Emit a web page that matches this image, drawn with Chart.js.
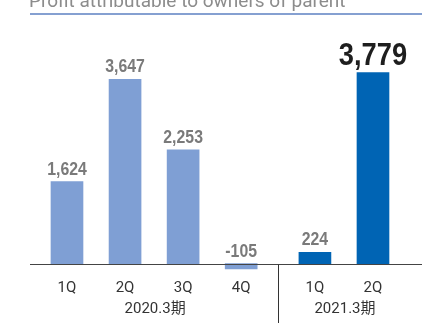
<!DOCTYPE html>
<html>
<head>
<meta charset="utf-8">
<script src="https://cdn.jsdelivr.net/npm/chart.js@4/dist/chart.umd.min.js"></script>
<style>
  html, body { margin: 0; padding: 0; background: #fff; }
  #wrap { position: relative; width: 445px; height: 323px; }
</style>
</head>
<body>
<div id="wrap"><canvas id="chart" width="445" height="323"></canvas></div>
<script>
// Quarterly profit attributable to owners of parent (million yen)
const title = 'Profit attributable to owners of parent';
const categories = ['1Q', '2Q', '3Q', '4Q', '1Q', '2Q'];
const periods = ['2020.3期', '2021.3期'];
const periodOf = [0, 0, 0, 0, 1, 1];
const profit = [1624, 3647, 2253, -105, 224, 3779];

// Visual settings
const GROUP_GAP = 0.27;          // extra space between fiscal years (in category units)
const LIGHT = '#7f9fd4';
const DARK = '#0064b4';
const LABEL_FONT = '"Liberation Sans", Arial, sans-serif';
const TEXT_FONT = 'Roboto, "Noto Sans CJK JP", sans-serif';

const slot = categories.map((_, i) => i + (periodOf[i] ? GROUP_GAP : 0));
const points = profit.map((v, i) => ({ x: slot[i], y: v }));
const colors = periodOf.map(p => (p === 0 ? LIGHT : DARK));
const latest = profit.length - 1;

const fmt = v => v.toLocaleString('en-US');

function drawScaledText(ctx, text, x, y, sx) {
  ctx.save();
  ctx.translate(x, y);
  ctx.scale(sx, 1);
  ctx.fillText(text, 0, 0);
  ctx.restore();
}

const decorations = {
  id: 'decorations',
  afterDatasetsDraw(chart) {
    const { ctx, chartArea, scales } = chart;
    const xs = scales.x, ys = scales.y;
    const zero = Math.round(ys.getPixelForValue(0)) + 0.5;

    ctx.save();
    // title and its underline
    ctx.fillStyle = '#8c8c8c';
    ctx.font = '19px ' + TEXT_FONT;
    ctx.textAlign = 'left';
    ctx.textBaseline = 'alphabetic';
    ctx.fillText(title, 29, 7);
    ctx.strokeStyle = '#5d80c2';
    ctx.lineWidth = 1.5;
    ctx.beginPath();
    ctx.moveTo(30, 14);
    ctx.lineTo(chartArea.right, 14);
    ctx.stroke();

    // zero line
    ctx.strokeStyle = '#444';
    ctx.lineWidth = 1;
    ctx.beginPath();
    ctx.moveTo(chartArea.left, zero);
    ctx.lineTo(chartArea.right, zero);
    ctx.stroke();

    // separator between fiscal years
    const firstNew = periodOf.indexOf(1);
    const sepX = Math.round((xs.getPixelForValue(slot[firstNew - 1]) + xs.getPixelForValue(slot[firstNew])) / 2) + 0.5;
    ctx.strokeStyle = '#333';
    ctx.beginPath();
    ctx.moveTo(sepX, zero);
    ctx.lineTo(sepX, chart.height);
    ctx.stroke();

    // value labels
    ctx.textAlign = 'center';
    profit.forEach((v, i) => {
      const px = xs.getPixelForValue(slot[i]);
      const top = Math.min(ys.getPixelForValue(v), ys.getPixelForValue(0));
      if (i === latest) {
        ctx.fillStyle = '#1e1e1e';
        ctx.font = 'bold 31px ' + LABEL_FONT;
        drawScaledText(ctx, fmt(v), px, top - 8, 0.88);
      } else {
        ctx.fillStyle = '#7a7a7a';
        ctx.font = 'bold 18px ' + LABEL_FONT;
        drawScaledText(ctx, fmt(v), px, top - 7, 0.88);
      }
    });

    // category labels
    ctx.fillStyle = '#333';
    ctx.font = '15px ' + TEXT_FONT;
    ctx.textBaseline = 'middle';
    categories.forEach((c, i) => {
      ctx.fillText(c, xs.getPixelForValue(slot[i]), 288);
    });
    // fiscal year labels, centred under their quarters
    periods.forEach((p, g) => {
      const idx = periodOf.map((q, i) => (q === g ? i : -1)).filter(i => i >= 0);
      const a = xs.getPixelForValue(slot[idx[0]]);
      const b = xs.getPixelForValue(slot[idx[idx.length - 1]]);
      ctx.fillText(p, (a + b) / 2 + 1, 309);
    });
    ctx.restore();
  }
};

new Chart(document.getElementById('chart'), {
  type: 'bar',
  data: {
    datasets: [{
      data: points,
      backgroundColor: colors,
      borderWidth: 0,
      barThickness: 32
    }]
  },
  options: {
    responsive: false,
    animation: false,
    events: [],
    layout: { padding: { left: 30, right: 23, top: 21, bottom: 19 } },
    scales: {
      x: { type: 'linear', display: false, offset: false, min: -0.637, max: 6.114 },
      y: { display: false, min: -800, max: 4800 }
    },
    plugins: {
      legend: { display: false },
      tooltip: { enabled: false }
    }
  },
  plugins: [decorations]
});
</script>
</body>
</html>
